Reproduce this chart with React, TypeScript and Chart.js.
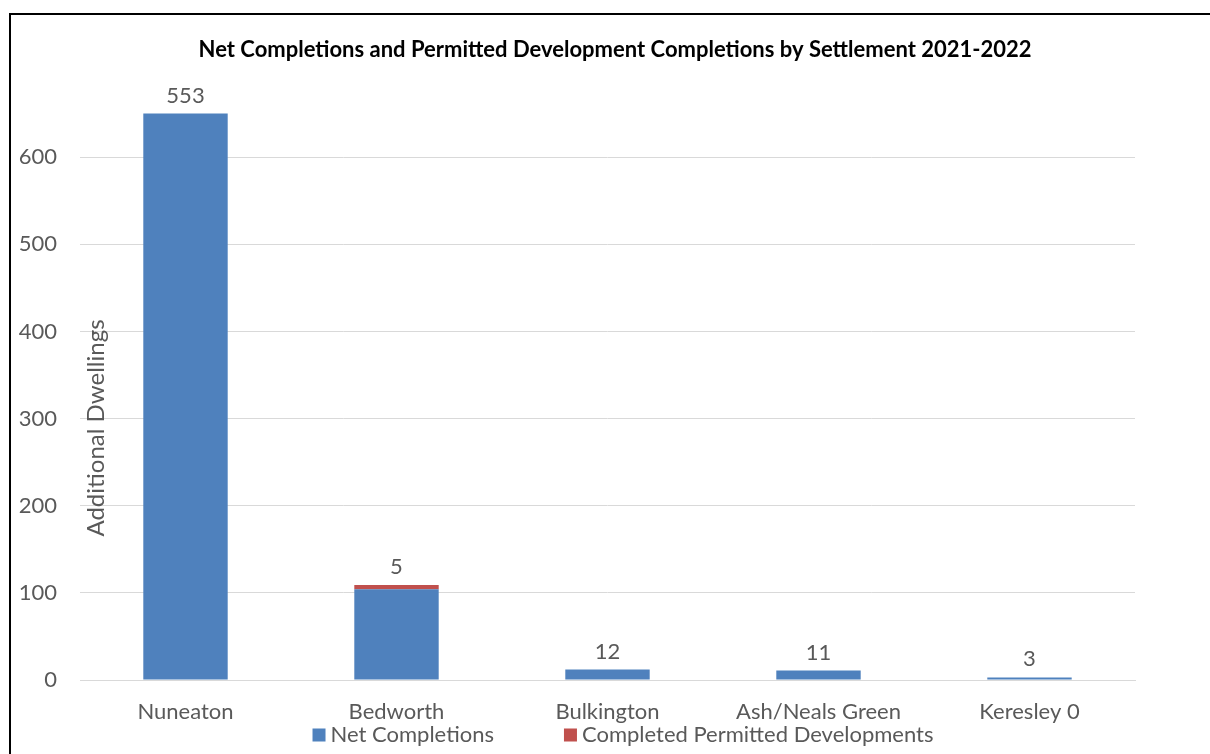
import React, { useEffect, useRef } from "react";
import { Chart, registerables } from "chart.js";

Chart.register(...registerables);

const categories = ["Nuneaton", "Bedworth", "Bulkington", "Ash/Neals Green", "Keresley 0"];
const netCompletions = [650, 104, 12, 11, 3];
const permittedDevelopments = [0, 5, 0, 0, 0];
const barLabels = ["553", "5", "12", "11", "3"];
const titleText = "Net Completions and Permitted Development Completions by Settlement 2021-2022";
const yAxisTitle = "Additional Dwellings";
const yMax = 700;
const yStep = 100;

const FONT = "Lato, 'Open Sans', sans-serif";
const TEXT = "#595959";

export default function App() {
  const ref = useRef<HTMLCanvasElement | null>(null);

  useEffect(() => {
    if (!ref.current) return;
    const overlay = {
      id: "overlay",
      afterDraw(chart: any) {
        const ctx = chart.ctx;
        ctx.save();
        // title
        ctx.fillStyle = "#000000";
        ctx.font = `bold 22px ${FONT}`;
        ctx.textAlign = "center";
        ctx.textBaseline = "middle";
        ctx.fillText(titleText, 615, 50);
        // y-axis title
        ctx.save();
        ctx.translate(96, 428);
        ctx.rotate(-Math.PI / 2);
        ctx.fillStyle = TEXT;
        ctx.font = `24px ${FONT}`;
        ctx.fillText(yAxisTitle, 0, 0);
        ctx.restore();
        // bar labels
        const last = chart.getDatasetMeta(chart.data.datasets.length - 1);
        const first = chart.getDatasetMeta(0);
        ctx.fillStyle = TEXT;
        ctx.font = `22px ${FONT}`;
        last.data.forEach((bar: any, i: number) => {
          const top = Math.min(bar.y, first.data[i].y);
          ctx.fillText(barLabels[i], bar.x, top - 18);
        });
        // legend
        ctx.font = `22px ${FONT}`;
        ctx.textAlign = "left";
        const box = 13;
        const gapBox = 5;
        const gapItem = 70;
        const ds = chart.data.datasets;
        const widths = ds.map((d: any) => box + gapBox + ctx.measureText(d.label).width);
        const total = widths.reduce((a: number, b: number) => a + b, 0) + gapItem * (ds.length - 1);
        let x = 623 - total / 2;
        const ly = 735;
        ds.forEach((d: any, i: number) => {
          ctx.fillStyle = d.backgroundColor;
          ctx.fillRect(x, ly - box / 2, box, box);
          ctx.fillStyle = TEXT;
          ctx.fillText(d.label, x + box + gapBox, ly);
          x += widths[i] + gapItem;
        });
        ctx.restore();
      },
    };

    const chart = new Chart(ref.current, {
      type: "bar",
      data: {
        labels: categories,
        datasets: [
          {
            label: "Net Completions",
            data: netCompletions,
            backgroundColor: "#4F81BD",
            barPercentage: 0.4,
            categoryPercentage: 1,
          },
          {
            label: "Completed Permitted Developments",
            data: permittedDevelopments,
            backgroundColor: "#C0504D",
            barPercentage: 0.4,
            categoryPercentage: 1,
          },
        ],
      },
      options: {
        responsive: false,
        animation: false,
        layout: { padding: { top: 70, right: 75, bottom: 0, left: 0 } },
        plugins: {
          legend: { display: false },
          title: { display: false },
          tooltip: { enabled: false },
        },
        scales: {
          x: {
            stacked: true,
            grid: { display: false, drawTicks: false },
            border: { display: true, color: "#D9D9D9", width: 1 },
            ticks: { color: TEXT, font: { family: FONT, size: 22 }, padding: 19, maxRotation: 0, autoSkip: false },
            afterFit: (s: any) => {
              s.height = 74;
            },
          },
          y: {
            stacked: true,
            min: 0,
            max: yMax,
            grid: {
              drawTicks: false,
              color: (c: any) => (c.tick && c.tick.value === yMax ? "rgba(0,0,0,0)" : "#D9D9D9"),
            },
            border: { display: false },
            ticks: {
              stepSize: yStep,
              color: TEXT,
              font: { family: FONT, size: 22 },
              padding: 23,
              callback: (v: any) => (v === yMax ? "" : String(v)),
            },
            afterFit: (s: any) => {
              s.width = 80;
            },
          },
        },
      },
      plugins: [overlay],
    });
    return () => chart.destroy();
  }, []);

  return (
    <div style={{ position: "fixed", left: 0, top: 0, width: 1210, height: 754, background: "#fff" }}>
      <div
        style={{
          position: "absolute",
          left: 9,
          top: 13,
          width: 1210,
          height: 754,
          borderLeft: "2px solid #000",
          borderTop: "2px solid #000",
        }}
      />
      <canvas ref={ref} width={1210} height={754} style={{ position: "absolute", left: 0, top: 0 }} />
    </div>
  );
}
